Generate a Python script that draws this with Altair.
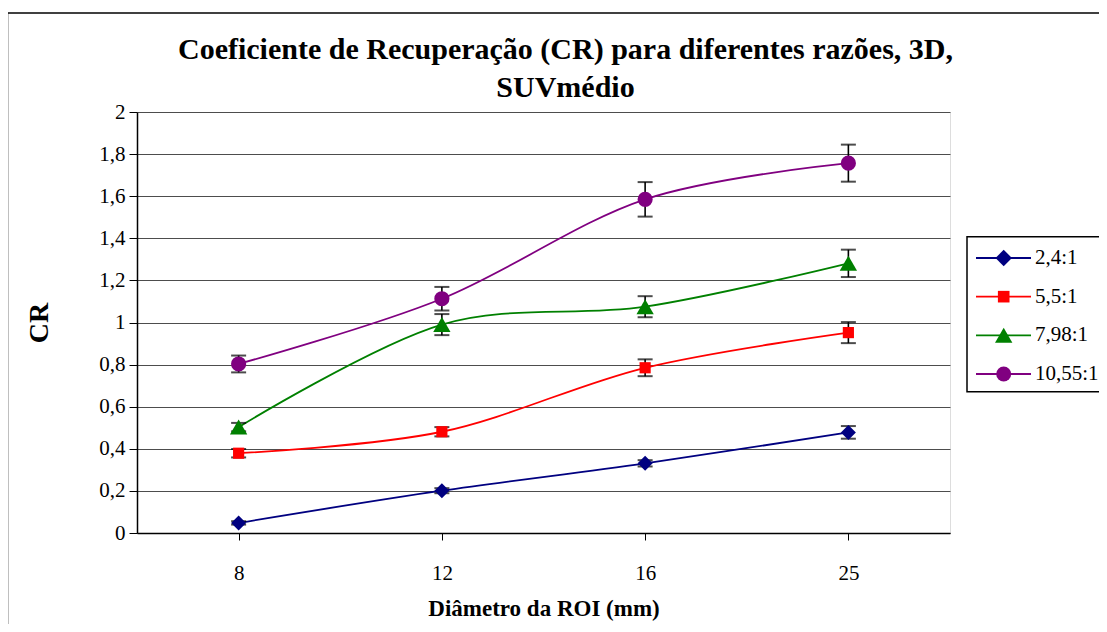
import altair as alt
import pandas as pd

diameters = ["8", "12", "16", "25"]
series_names = ["2,4:1", "5,5:1", "7,98:1", "10,55:1"]
colors = ["#000080", "#FF0000", "#008000", "#800080"]

cr_24 = [0.048, 0.201, 0.331, 0.478]
err_24 = [0.008, 0.012, 0.015, 0.03]
cr_55 = [0.379, 0.481, 0.785, 0.952]
err_55 = [0.02, 0.022, 0.04, 0.05]
cr_798 = [0.503, 0.99, 1.075, 1.281]
err_798 = [0.02, 0.05, 0.05, 0.065]
cr_1055 = [0.803, 1.113, 1.585, 1.757]
err_1055 = [0.04, 0.056, 0.082, 0.088]

marker_shapes = ["diamond", "square", "triangle-up", "circle"]
marker_sizes = [225, 125, 300, 230]
legend_marker_sizes = [270, 135, 300, 225]

rows = []
for name, vals, errs in zip(series_names, [cr_24, cr_55, cr_798, cr_1055],
                            [err_24, err_55, err_798, err_1055]):
    for d, v, e in zip(diameters, vals, errs):
        rows.append({"series": name, "diam": d, "cr": v, "lo": v - e, "hi": v + e})
df = pd.DataFrame(rows)
leg_df = pd.DataFrame({"series": series_names})

FONT = "Liberation Serif"

x_enc = alt.X(
    "diam:O",
    sort=diameters,
    scale=alt.Scale(type="point", padding=0.5, domain=diameters),
    axis=alt.Axis(
        title="Diâmetro da ROI (mm)",
        labelAngle=0,
        labelFont=FONT,
        labelFontSize=21,
        labelColor="black",
        labelPadding=22,
        tickSize=7,
        tickColor="black",
        domainColor="black",
        domainWidth=1.5,
        grid=False,
        titleFont=FONT,
        titleFontSize=23,
        titleFontWeight="bold",
        titleColor="black",
        titleY=75,
        titleBaseline="middle",
    ),
)
y_enc = alt.Y(
    "cr:Q",
    scale=alt.Scale(domain=[0, 2], nice=False),
    axis=alt.Axis(
        title="CR",
        values=[0, 0.2, 0.4, 0.6, 0.8, 1.0, 1.2, 1.4, 1.6, 1.8, 2.0],
        labelExpr="replace(format(datum.value, '~g'), '.', ',')",
        labelFont=FONT,
        labelFontSize=21,
        labelColor="black",
        labelPadding=4,
        tickSize=8,
        tickColor="black",
        domainColor="black",
        domainWidth=1.5,
        grid=True,
        gridColor="#4d4d4d",
        gridWidth=1,
        titleFont=FONT,
        titleFontSize=28,
        titleFontWeight="bold",
        titleColor="black",
        titleAngle=270,
        titleX=-98,
        titleY=210.5,
        titleAlign="center",
        titleBaseline="middle",
    ),
)

color_scale = alt.Scale(domain=series_names, range=colors)
color_enc = alt.Color("series:N", scale=color_scale, legend=None)
x_plain = alt.X("diam:O", sort=diameters)

base = alt.Chart(df)

lines = base.mark_line(interpolate="cardinal", strokeWidth=1.8).encode(
    x=x_enc, y=y_enc, color=color_enc
)
err_rules = base.mark_rule(color="black", strokeWidth=1.6).encode(
    x=x_plain, y="lo:Q", y2="hi:Q"
)
cap_lo = base.mark_tick(color="black", size=15, thickness=2).encode(x=x_plain, y="lo:Q")
cap_hi = base.mark_tick(color="black", size=15, thickness=2).encode(x=x_plain, y="hi:Q")

marker_layers = []
for name, shp, sz in zip(series_names, marker_shapes, marker_sizes):
    marker_layers.append(
        base.transform_filter(alt.datum.series == name)
        .mark_point(filled=True, opacity=1, shape=shp, size=sz)
        .encode(x=x_plain, y="cr:Q", color=color_enc)
    )

frame_df = pd.DataFrame({"k": [0]})
frame_left = alt.Chart(frame_df).mark_rule(color="black", strokeWidth=1.5).encode(
    x=alt.value(-129.5), y=alt.value(-99), y2=alt.value(530)
)
frame_top = alt.Chart(frame_df).mark_rule(color="black", strokeWidth=1.5).encode(
    x=alt.value(-129.5), x2=alt.value(1000), y=alt.value(-99)
)

main = alt.layer(frame_left, frame_top, lines, err_rules, cap_lo, cap_hi, *marker_layers)

# legend: entries placed by their own point scale
leg_y = alt.Y(
    "series:N",
    sort=series_names,
    scale=alt.Scale(type="point", domain=series_names, range=[146, 262], padding=0),
    axis=None,
)
leg_base = alt.Chart(leg_df)
legend_box = alt.Chart(frame_df).mark_rect(fill="white", stroke="black", strokeWidth=1.5).encode(
    x=alt.value(830), x2=alt.value(1000), y=alt.value(124.7), y2=alt.value(279.7)
)
legend_lines = leg_base.mark_rule(strokeWidth=1.8).encode(
    x=alt.value(839), x2=alt.value(894), y=leg_y, color=color_enc
)
legend_markers = []
for name, shp, sz in zip(series_names, marker_shapes, legend_marker_sizes):
    legend_markers.append(
        leg_base.transform_filter(alt.datum.series == name)
        .mark_point(filled=True, opacity=1, shape=shp, size=sz)
        .encode(x=alt.value(866.7), y=leg_y, color=color_enc)
    )
legend_text = leg_base.mark_text(
    align="left", baseline="middle", font=FONT, fontSize=21, color="black"
).encode(x=alt.value(898), y=leg_y, text="series:N")

legend_group = alt.layer(legend_box, legend_lines, *legend_markers, legend_text)

chart = (
    alt.layer(main, legend_group)
    .resolve_scale(y="independent")
    .properties(
        width=813,
        height=421,
        padding={"left": 129, "top": 104, "right": 149, "bottom": 91},
        autosize=alt.AutoSizeParams(type="none"),
        title=alt.TitleParams(
            text=["Coeficiente de Recuperação (CR) para diferentes razões, 3D,", "SUVmédio"],
            font=FONT,
            fontSize=30,
            fontWeight="bold",
            color="black",
            anchor="middle",
            dx=22,
            dy=91,
            offset=0,
            lineHeight=38,
        ),
    )
    .configure_view(stroke="#999999", strokeWidth=2)
    .configure(background="white")
)

chart.save("out.html", embed_options={"renderer": "svg", "actions": False})
